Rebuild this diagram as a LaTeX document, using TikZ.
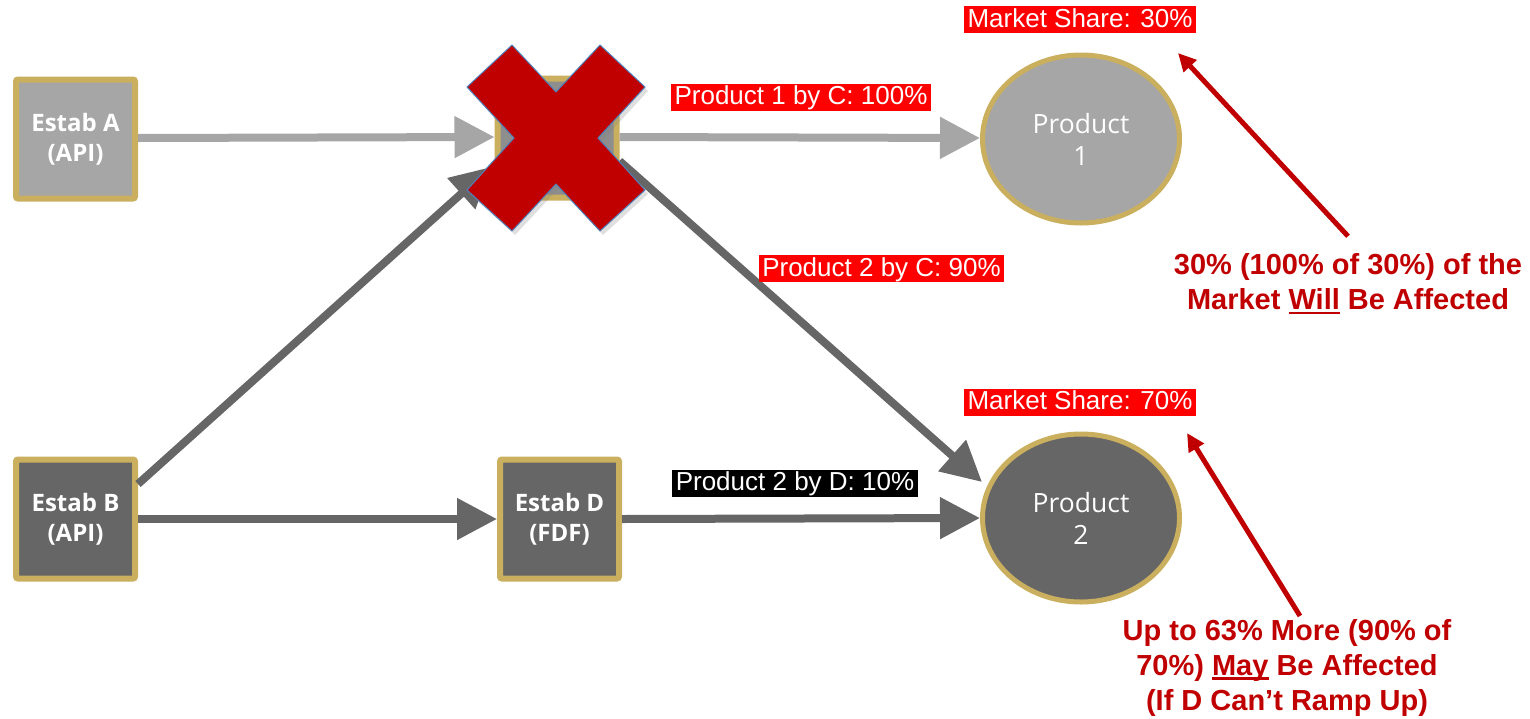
\documentclass[tikz,border=0pt]{standalone}
\usepackage{fontspec}
\setmainfont{Liberation Sans}
\newfontfamily\boxfont{Open Sans}
\usetikzlibrary{arrows.meta,shadows,calc,shapes.geometric}
\definecolor{gold}{HTML}{C9AF5E}
\definecolor{lgray}{HTML}{A6A6A6}
\definecolor{dgray}{HTML}{666666}
\definecolor{cgray}{HTML}{8E8E8E}
\definecolor{xred}{HTML}{C00000}
\definecolor{lred}{HTML}{FF0000}
\definecolor{xblue}{HTML}{4F81BD}
\newsavebox\ulbox
\newcommand{\myul}[1]{\sbox\ulbox{#1}\rlap{\rule[-4.5pt]{\wd\ulbox}{2.6pt}}\usebox\ulbox}
\begin{document}
\begin{tikzpicture}[x=1pt,y=-1pt,
  estab/.style={draw=gold, line width=6pt, rounded corners=2pt, minimum width=119pt, minimum height=119pt, inner sep=0pt, text=white, align=center, font=\boxfont\bfseries\fontsize{24}{30}\selectfont},
  prod/.style={ellipse, draw=gold, line width=5pt, minimum width=197pt, minimum height=168pt, inner sep=0pt, text=white, align=center, font=\boxfont\fontsize{26.5}{32}\selectfont},
  flow/.style={line width=8pt, -{Triangle[length=40pt,width=40pt]}},
  tag/.style={text=white, inner xsep=3.5pt, inner ysep=0pt, text height=21pt, text depth=6pt, font=\fontsize{26}{30}\selectfont},
  note/.style={text=xred, align=center, font=\bfseries\fontsize{29}{35}\selectfont},
  callout/.style={draw=xred, line width=5pt, -{Triangle[length=18pt,width=17pt]}}
]
\useasboundingbox (0,0) rectangle (1530,718);
% coordinates for free ends
\coordinate (cin) at (491,167);
\coordinate (p2in) at (982,482);
\coordinate (m1tip) at (1178,53);
\coordinate (m2tip) at (1187,433);
% nodes
\node[estab, fill=lgray] (A) at (75.5,139) {Estab A\\(API)};
\node[estab, fill=dgray] (B) at (75.5,519) {Estab B\\(API)};
\node[estab, fill=cgray] (C) at (557,138) {};
\node[estab, fill=dgray] (D) at (559.5,519) {Estab D\\(FDF)};
\node[prod, fill=lgray] (P1) at (1081,139) {Product\\1};
\node[prod, fill=dgray] (P2) at (1081,518) {Product\\2};
% connectors
\draw[flow, lgray] ([yshift=1pt]A.east) -- ([yshift=1pt]C.west);
\draw[flow, lgray] ([yshift=1pt]C.east) -- ([yshift=1pt]P1.west);
\draw[flow, dgray] ($(B.east)+(0,-35)$) -- (cin);
\draw[flow, dgray] ($(C.east)+(0,23)$) -- (p2in);
\draw[flow, dgray] (B.east) -- (D.west);
\draw[flow, dgray] (D.east) -- (P2.west);
% red cross
\filldraw[fill=xred, draw=xblue, line width=1pt, drop shadow={opacity=0.25, shadow xshift=3pt, shadow yshift=-4pt}]
  (512,45) -- (556,92) -- (600,45) -- (645,87) -- (598,138) -- (645,190) -- (600,231) -- (556,184) -- (512,231) -- (467,190) -- (514,138) -- (467,87) -- cycle;
% labels
\node[tag, fill=lred] (t1) at (801,97) {Product 1 by C: 100\%};
\node[tag, fill=lred] (t2) at (881.5,268.5) {Product 2 by C: 90\%};
\node[tag, fill=black] (t3) at (795,483) {Product 2 by D: 10\%};
\node[tag, fill=lred] (m1) at (1080,19.5) {Market Share: 30\%};
\node[tag, fill=lred] (m2) at (1080,402) {Market Share: 70\%};
% notes
\node[note] (n1) at (1348,284) {30\% (100\% of 30\%) of the\\Market \myul{Will} Be Affected};
\node[note] (n2) at (1287,668) {Up to 63\% More (90\% of\\70\%) \myul{May} Be Affected\\(If D Can’t Ramp Up)};
\draw[callout] ($(n1.north)+(0,-14)$) -- (m1tip);
\draw[callout] ($(n2.north)+(13,0)$) -- (m2tip);
\end{tikzpicture}
\end{document}
